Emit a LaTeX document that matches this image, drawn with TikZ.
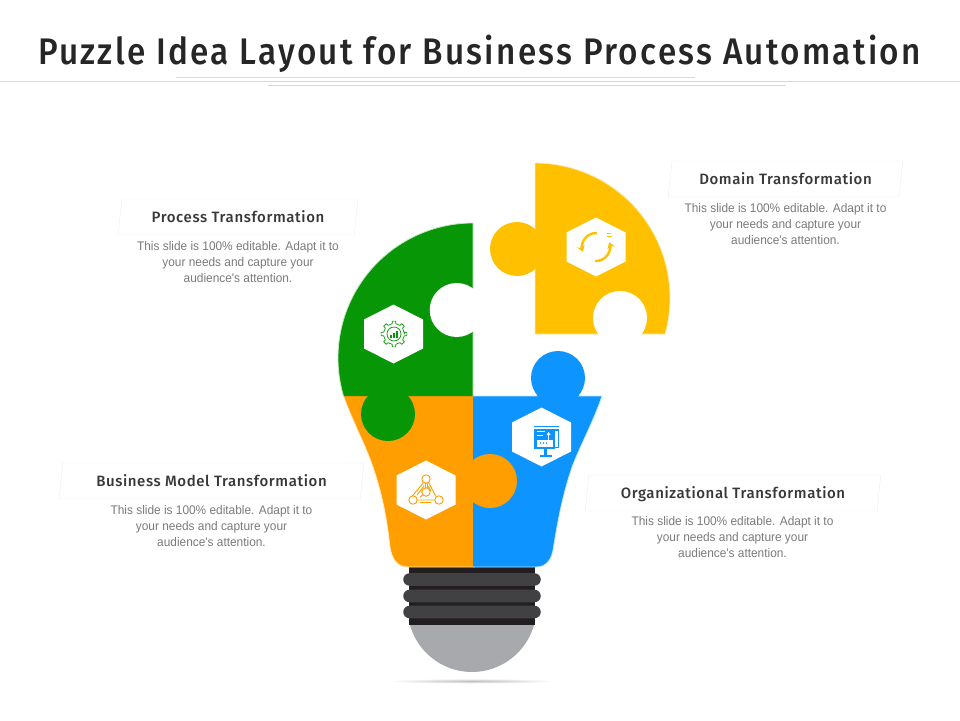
\documentclass[tikz,border=0pt]{standalone}
\usepackage{fontspec}
\setmainfont{Fira Sans}
\newfontfamily\bodyfont[FakeStretch=0.95]{Liberation Sans}
\newfontfamily\titlefont[LetterSpace=6.2,FakeStretch=0.9]{Fira Sans Medium}
\newfontfamily\headfont[LetterSpace=4]{Fira Sans Medium}
\usetikzlibrary{shapes.geometric,arrows.meta}
\definecolor{leafgreen}{HTML}{069606}
\definecolor{amber}{HTML}{FF9E00}
\definecolor{sunyellow}{HTML}{FFC000}
\definecolor{skyblue}{HTML}{0D94FF}
\definecolor{capdark}{HTML}{231F20}
\definecolor{ringgrey}{HTML}{414042}
\definecolor{tipgrey}{HTML}{A7A9AC}

\begin{document}
\begin{tikzpicture}[x=1pt, y=-1pt,
  bodytext/.style = {font=\bodyfont\fontsize{12.5}{16}\selectfont, text=black!52, align=center},
  headbox/.style = {draw=black!7, fill=white, trapezium, trapezium left angle=77.5,
    trapezium right angle=102.5, trapezium stretches=true, minimum height=36pt, inner sep=1pt,
    text height=11pt, text depth=0pt,
    font=\headfont\fontsize{15}{16}\selectfont, text=black!78},
  rule/.style = {draw=black!15, line width=0.8pt},
  piece/.style = {line width=0.8pt}]
  \useasboundingbox (0,0) rectangle (960,720);

  \node[font=\titlefont\fontsize{37}{40}\selectfont, text=black!85] (title) at (479.5,53.5) {Puzzle Idea Layout for Business Process Automation};
  \coordinate (ruleL) at (0,81.5);
  \coordinate (ruleR) at (960,81.5);
  \coordinate (upL) at (175.5,77.5);
  \coordinate (upR) at (695,77.5);
  \coordinate (lowL) at (268,85.5);
  \coordinate (lowR) at (786,85.5);
  \draw[rule] (ruleL) -- (ruleR);
  \draw[rule] (upL) -- (upR);
  \draw[rule] (lowL) -- (lowR);

  % lamp base
  \fill[tipgrey] (410,625) arc[start angle=164.3, end angle=15.7, radius=64.4] -- cycle;
  \fill[capdark] (408.5,567) rectangle (534.5,625);
  \foreach \y in {579.5,596,612}
    \fill[ringgrey] (410,\y-6.3) -- (534,\y-6.3) .. controls (543,\y-6.3) and (543,\y+6.3) .. (534,\y+6.3)
       -- (410,\y+6.3) .. controls (401,\y+6.3) and (401,\y-6.3) .. (410,\y-6.3) -- cycle;
  \shade[inner color=black!25, outer color=white] (472,681) ellipse (84 and 2.5);

  % bottom pieces
  \filldraw[piece, draw=amber!25, fill=amber] (343.5,396) .. controls (352,420) and (366,446) .. (373,467)
     .. controls (383,497) and (387,520) .. (390,547) .. controls (392,560) and (398,567) .. (408,567)
     -- (474,567) -- (474,396);
  \filldraw[piece, draw=skyblue!25, fill=skyblue] (473,567) -- (536,567) .. controls (546,567) and (552,560) .. (553.5,547)
     .. controls (558,520) and (562,497) .. (572,467) .. controls (580,446) and (594,420) .. (602,396)
     -- (473,396);
  \fill[capdark] (408.5,567.5) rectangle (534.5,569);
  \fill[skyblue] (558,378) circle (27);
  \fill[skyblue] (536,396) -- (580,396) -- (558,385) -- cycle;
  \fill[amber] (490,481) circle (27);

  % top left piece
  \filldraw[piece, draw=leafgreen!25, fill=leafgreen] (473,396) -- (473,223) arc[start angle=270, end angle=163.65, radius=135];
  \fill[leafgreen] (388,414) circle (27);
  \fill[white] (456.7,310) circle (27);

  % top right piece
  \filldraw[piece, draw=sunyellow!30, fill=sunyellow] (535,163) arc[start angle=-90, end angle=15.47, radius=135] -- (535,334) -- cycle;
  \fill[sunyellow] (517,249) circle (27);
  \begin{scope}
    \clip (580,280) rectangle (670,334);
    \fill[white] (620,318) circle (27);
  \end{scope}

  % hexagons
  \foreach \x/\y in {393.5/334, 596/247, 541.5/437, 426/490}
    \fill[white, shift={(\x,\y)}] (0,-29.5) -- (29.5,-14.5) -- (29.5,14.5) -- (0,29.5) -- (-29.5,14.5) -- (-29.5,-14.5) -- cycle;

  % gear
  \begin{scope}[shift={(394,334)}, draw=leafgreen, line width=0.7pt, line join=round]
    \draw (0:10.5) \foreach \a in {0,45,...,315} { -- (\a-10:10.5) -- (\a-8:13) -- (\a+8:13) -- (\a+10:10.5) } -- cycle;
    \draw (0,0) circle (7);
    \fill[leafgreen] (-4,1) rectangle (-2.2,4);
    \fill[leafgreen] (-1,-1) rectangle (0.8,4);
    \fill[leafgreen] (2,-3.5) rectangle (3.8,4);
  \end{scope}

  % cycle arrows
  \begin{scope}[shift={(596,247)}, draw=sunyellow, line width=2.4pt, -{Stealth[length=6pt,width=8pt]}]
    \draw (1,-14) arc[start angle=-86, end angle=-200, radius=14];
    \draw (-1,14) arc[start angle=94, end angle=-20, radius=14];
    \draw[-, line width=1.2pt] (10.5,-13.5) -- (15,-13.5);
    \draw[-, line width=1.2pt] (10.5,-10.5) -- (15.5,-10.5);
  \end{scope}

  % presentation board
  \begin{scope}[shift={(541.5,437)}]
    \fill[skyblue] (-8,-8) rectangle (13,12);
    \fill[skyblue] (-8,-11.5) rectangle (17.5,-10);
    \fill[skyblue] (13,-8) rectangle (17.5,-6.5);
    \draw[skyblue, line width=0.8pt] (17,-6) -- (17,10) -- (13,10);
    \fill[white] (-5,-6) rectangle (3,-5);
    \fill[white] (-5,-2) rectangle (1,-1);
    \fill[white] (7,-5) -- (9,-2) -- (5,-2) -- cycle;
    \fill[white] (6.5,-2) rectangle (7.5,3);
    \fill[white] (-5,3) rectangle (11,10);
    \fill[skyblue] (-1,6) circle (0.8) (2,6) circle (0.8) (5,6) circle (0.8);
    \fill[skyblue] (2.5,12) rectangle (5,18);
    \fill[skyblue] (-2,18) rectangle (10,19.5);
  \end{scope}

  % network
  \begin{scope}[shift={(426,490)}, draw=amber, line width=0.9pt]
    \draw (0,-11) circle (4.2);
    \draw (0,2) circle (4.2);
    \draw (-13,10) circle (4.2);
    \draw (13,10) circle (4.2);
    \draw (-2.5,-7.5) -- (-13.5,5.8) (2.5,-7.5) -- (10,6.5);
    \draw (-2,-4) -- (-9,5) (2,-4) -- (5,1);
    \draw (-1,-7) -- (-1,-2) (1,-7) -- (1,-2);
    \draw (-9,10) -- (8.8,10) (-6,7.5) -- (-3,4.5) (-6,12.5) -- (5,12.5);
  \end{scope}

  % labels
  \node[headbox, minimum width=240pt] (procbox) at (238,217) {Process Transformation};
  \node[bodytext] (proctext) at (238,262) {This slide is 100\% editable. Adapt it to\\your needs and capture your\\audience's attention.};

  \node[headbox, minimum width=235pt] (domainbox) at (785.5,179) {Domain Transformation};
  \node[bodytext] (domaintext) at (785.5,224) {This slide is 100\% editable. Adapt it to\\your needs and capture your\\audience's attention.};

  \node[headbox, minimum width=305pt] (modelbox) at (211.5,481) {Business Model Transformation};
  \node[bodytext] (modeltext) at (211.5,526) {This slide is 100\% editable. Adapt it to\\your needs and capture your\\audience's attention.};

  \node[headbox, minimum width=296pt] (orgbox) at (733,493) {Organizational Transformation};
  \node[bodytext] (orgtext) at (732.5,537) {This slide is 100\% editable. Adapt it to\\your needs and capture your\\audience's attention.};
\end{tikzpicture}
\end{document}
